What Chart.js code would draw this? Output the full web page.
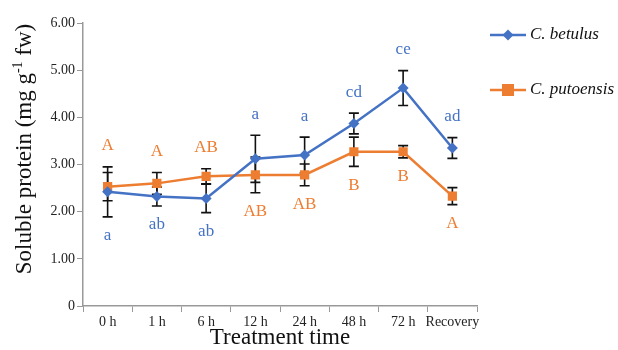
<!DOCTYPE html>
<html>
<head>
<meta charset="utf-8">
<script src="https://cdn.jsdelivr.net/npm/chart.js@4"></script>
<style>
  html, body { margin: 0; padding: 0; background: #fff; }
  #wrap { width: 618px; height: 350px; position: relative; }
</style>
</head>
<body>
<div id="wrap"><canvas id="chart"></canvas></div>
<script>
// Proteína solúvel: C. betulus vs C. putoensis ao longo do tratamento
const tempos = ["0 h", "1 h", "6 h", "12 h", "24 h", "48 h", "72 h", "Recovery"];

const betulus = [2.42, 2.32, 2.28, 3.12, 3.20, 3.87, 4.62, 3.35];
const betulusErro = [0.53, 0.20, 0.30, 0.50, 0.38, 0.22, 0.37, 0.22];
const betulusLetras = ["a", "ab", "ab", "a", "a", "cd", "ce", "ad"];
const betulusLado = ["baixo", "baixo", "baixo", "cima", "cima", "cima", "cima", "cima"];

const putoensis = [2.53, 2.60, 2.75, 2.78, 2.78, 3.27, 3.27, 2.33];
const putoensisErro = [0.30, 0.23, 0.16, 0.38, 0.23, 0.31, 0.13, 0.18];
const putoensisLetras = ["A", "A", "AB", "AB", "AB", "B", "B", "A"];
const putoensisLado = ["cima", "cima", "cima", "baixo", "baixo", "baixo", "baixo", "baixo"];

const yTicks = [0, 1, 2, 3, 4, 5, 6];

const AZUL = "#4472C4";
const LARANJA = "#ED7D31";
const SERIF = "'Liberation Serif', 'DejaVu Serif', serif";

const series = [
  { nome: "C. betulus", valores: betulus, erro: betulusErro, letras: betulusLetras, lado: betulusLado, cor: AZUL, ponto: "rectRot", raio: 5.5 },
  { nome: "C. putoensis", valores: putoensis, erro: putoensisErro, letras: putoensisLetras, lado: putoensisLado, cor: LARANJA, ponto: "rect", raio: 6.5 },
];

// barras de erro (atrás dos marcadores), letras, legenda e títulos dos eixos
const extras = {
  id: "extras",
  beforeDatasetsDraw(chart) {
    const { ctx, scales } = chart;
    const x = scales.x, y = scales.y;
    ctx.save();
    ctx.strokeStyle = "#111";
    ctx.lineWidth = 1.6;
    series.forEach((s) => {
      s.valores.forEach((v, i) => {
        const px = x.getPixelForValue(i);
        const top = y.getPixelForValue(v + s.erro[i]);
        const bot = y.getPixelForValue(v - s.erro[i]);
        ctx.beginPath();
        ctx.moveTo(px, top); ctx.lineTo(px, bot);
        ctx.moveTo(px - 5, top); ctx.lineTo(px + 5, top);
        ctx.moveTo(px - 5, bot); ctx.lineTo(px + 5, bot);
        ctx.stroke();
      });
    });
    ctx.restore();
  },
  afterDatasetsDraw(chart) {
    const { ctx, scales } = chart;
    const x = scales.x, y = scales.y;
    ctx.save();
    ctx.font = "17px " + SERIF;
    ctx.textAlign = "center";
    ctx.textBaseline = "middle";
    series.forEach((s) => {
      ctx.fillStyle = s.cor;
      s.letras.forEach((l, i) => {
        const px = x.getPixelForValue(i);
        let py;
        if (s.lado[i] === "cima") {
          const maxTop = Math.max(...series.map((o) => o.valores[i] + o.erro[i]));
          py = y.getPixelForValue(maxTop) - 21;
        } else {
          py = y.getPixelForValue(s.valores[i] - s.erro[i]) + 19;
        }
        ctx.fillText(l, px, py);
      });
    });
    ctx.restore();
  },
  afterDraw(chart) {
    const { ctx, chartArea } = chart;
    ctx.save();
    // legenda
    series.forEach((s, k) => {
      const ly = 35 + k * 55;
      ctx.strokeStyle = s.cor;
      ctx.lineWidth = 2.5;
      ctx.beginPath();
      ctx.moveTo(490, ly); ctx.lineTo(526, ly);
      ctx.stroke();
      ctx.fillStyle = s.cor;
      if (s.ponto === "rect") {
        ctx.fillRect(502, ly - 6, 12, 12);
      } else {
        ctx.beginPath();
        ctx.moveTo(508, ly - 5.5); ctx.lineTo(513.5, ly); ctx.lineTo(508, ly + 5.5); ctx.lineTo(502.5, ly);
        ctx.closePath(); ctx.fill();
      }
      ctx.fillStyle = "#111";
      ctx.font = "italic 17px " + SERIF;
      ctx.textAlign = "left";
      ctx.textBaseline = "middle";
      ctx.fillText(s.nome, 530, ly);
    });
    // título do eixo x
    ctx.fillStyle = "#111";
    ctx.font = "23px " + SERIF;
    ctx.textAlign = "center";
    ctx.textBaseline = "middle";
    ctx.fillText("Treatment time", (chartArea.left + chartArea.right) / 2, 338);
    // título do eixo y com sobrescrito
    ctx.translate(25, 149);
    ctx.rotate(-Math.PI / 2);
    const a = "Soluble protein (mg g", sup = "-1", b = " fw)";
    ctx.font = "23px " + SERIF;
    const wa = ctx.measureText(a).width, wb = ctx.measureText(b).width;
    ctx.font = "14px " + SERIF;
    const ws = ctx.measureText(sup).width;
    let cx = -(wa + ws + wb) / 2;
    ctx.textAlign = "left";
    ctx.font = "23px " + SERIF;
    ctx.fillText(a, cx, 0); cx += wa;
    ctx.font = "14px " + SERIF;
    ctx.fillText(sup, cx, -7); cx += ws;
    ctx.font = "23px " + SERIF;
    ctx.fillText(b, cx, 0);
    ctx.restore();
  },
};

new Chart(document.getElementById("chart"), {
  type: "line",
  data: {
    labels: tempos,
    datasets: series.map((s) => ({
      label: s.nome,
      data: s.valores,
      borderColor: s.cor,
      backgroundColor: s.cor,
      borderWidth: 2.5,
      pointStyle: s.ponto,
      pointRadius: s.raio,
      pointBorderWidth: 0,
      tension: 0,
      fill: false,
    })),
  },
  options: {
    responsive: true,
    maintainAspectRatio: false,
    animation: false,
    layout: { padding: { top: 23, right: 141, left: 0, bottom: 0 } },
    plugins: { legend: { display: false }, tooltip: { enabled: false } },
    scales: {
      x: {
        offset: true,
        grid: { offset: true, drawOnChartArea: false, tickLength: 6, color: "#999" },
        border: { color: "#999", width: 1.5 },
        ticks: { color: "#222", font: { family: SERIF, size: 14 }, maxRotation: 0, autoSkip: false, padding: 2 },
        afterFit(s) { s.height = 44; },
      },
      y: {
        min: 0,
        max: 6,
        afterBuildTicks(s) { s.ticks = yTicks.map((v) => ({ value: v })); },
        grid: { drawOnChartArea: false, tickLength: 6, color: "#999" },
        border: { color: "#999", width: 1.5 },
        ticks: {
          color: "#222",
          font: { family: SERIF, size: 14 },
          padding: 2,
          callback: (v) => (v === 0 ? "0" : v.toFixed(2)),
        },
        afterFit(s) { s.width = 83; },
      },
    },
  },
  plugins: [extras],
});
</script>
</body>
</html>
